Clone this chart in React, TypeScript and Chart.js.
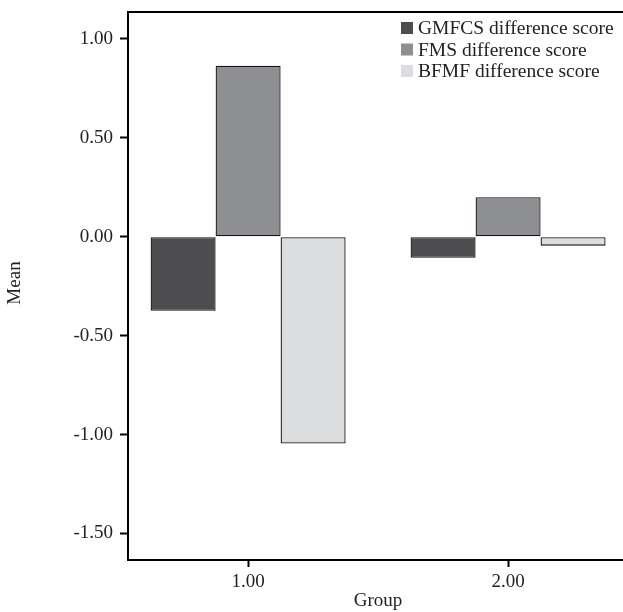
import React, { useEffect, useRef } from "react";
import { Chart, registerables } from "chart.js";
Chart.register(...registerables);

const groupValues = [1, 2];
const groupLabels = ["1.00", "2.00"];
const seriesNames = ["GMFCS difference score", "FMS difference score", "BFMF difference score"];
const gmfcsMeans = [-0.374, -0.106];
const fmsMeans = [0.864, 0.2];
const bfmfMeans = [-1.045, -0.045];
const seriesColors = ["#4d4d4f", "#8e8f93", "#dcdddf"];
const yTickValues = [-1.5, -1.0, -0.5, 0.0, 0.5, 1.0];

const FONT = "'Liberation Serif', 'Times New Roman', serif";

const decorPlugin = {
  id: "decor",
  afterDraw(chart: any) {
    const { ctx, chartArea } = chart;
    ctx.save();
    // top frame line
    ctx.strokeStyle = "#000";
    ctx.lineWidth = 2;
    ctx.beginPath();
    ctx.moveTo(chartArea.left - 1, chartArea.top);
    ctx.lineTo(chartArea.right, chartArea.top);
    ctx.stroke();
    // axis titles
    ctx.fillStyle = "#222";
    ctx.font = `19px ${FONT}`;
    ctx.textAlign = "center";
    ctx.textBaseline = "middle";
    ctx.fillText("Group", 378, 601);
    ctx.translate(15, 283);
    ctx.rotate(-Math.PI / 2);
    ctx.fillText("Mean", 0, 0);
    ctx.restore();
    // legend
    ctx.save();
    ctx.font = `19.5px ${FONT}`;
    ctx.textAlign = "left";
    ctx.textBaseline = "middle";
    seriesNames.forEach((name, i) => {
      const cy = 28 + i * 21.5;
      ctx.fillStyle = seriesColors[i];
      ctx.fillRect(401, cy - 6, 12, 12);
      ctx.fillStyle = "#222";
      ctx.fillText(name, 418, cy + 1);
    });
    ctx.restore();
  },
};

export default function App() {
  const ref = useRef<HTMLCanvasElement>(null);
  useEffect(() => {
    if (!ref.current) return;
    const mk = (vals: number[]) => groupValues.map((g, i) => ({ x: g, y: vals[i] }));
    const chart = new Chart(ref.current, {
      type: "bar",
      data: {
        datasets: [gmfcsMeans, fmsMeans, bfmfMeans].map((vals, i) => ({
          label: seriesNames[i],
          data: mk(vals),
          backgroundColor: seriesColors[i],
          borderColor: "#151515",
          borderWidth: 1.3,
          borderSkipped: false,
          categoryPercentage: 0.75,
          barPercentage: 1,
        })),
      },
      plugins: [decorPlugin],
      options: {
        animation: false,
        responsive: false,
        devicePixelRatio: 1,
        layout: { padding: { top: 12, left: 0, right: 0, bottom: 0 } },
        plugins: { legend: { display: false }, tooltip: { enabled: false } },
        scales: {
          x: {
            type: "linear",
            offset: false,
            min: 0.538,
            max: 2.442,
            afterFit: (s: any) => {
              s.height = 52;
              s.paddingLeft = 0;
              s.paddingRight = 0;
            },
            afterBuildTicks: (s: any) => {
              s.ticks = groupValues.map((v) => ({ value: v }));
            },
            ticks: {
              includeBounds: false,
              stepSize: 1,
              padding: 4,
              color: "#222",
              font: { family: FONT, size: 19 },
              callback: (v: any) => groupLabels[groupValues.indexOf(Number(v))] ?? "",
            },
            grid: { offset: false, drawOnChartArea: false, drawTicks: true, tickLength: 7, tickColor: "#000", tickWidth: 2 },
            border: { display: true, color: "#000", width: 2 },
          },
          y: {
            min: -1.634,
            max: 1.136,
            afterFit: (s: any) => {
              s.width = 128;
              s.paddingTop = 0;
              s.paddingBottom = 0;
            },
            afterBuildTicks: (s: any) => {
              s.ticks = yTickValues.map((v) => ({ value: v }));
            },
            ticks: {
              includeBounds: false,
              stepSize: 0.5,
              padding: 7,
              color: "#222",
              font: { family: FONT, size: 19 },
              callback: (v: any) => Number(v).toFixed(2),
            },
            grid: { drawOnChartArea: false, drawTicks: true, tickLength: 8, tickColor: "#000", tickWidth: 2 },
            border: { display: true, color: "#000", width: 2 },
          },
        },
      },
    } as any);
    return () => chart.destroy();
  }, []);
  return (
    <canvas
      ref={ref}
      width={623}
      height={612}
      style={{ position: "fixed", left: 0, top: 0, width: 623, height: 612 }}
    />
  );
}
